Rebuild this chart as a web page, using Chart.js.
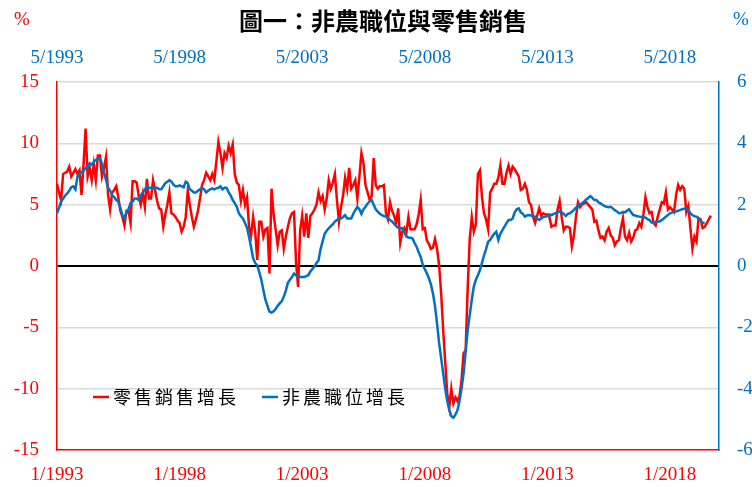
<!DOCTYPE html>
<html><head><meta charset="utf-8">
<script src="https://cdn.jsdelivr.net/npm/chart.js@4/dist/chart.umd.min.js"></script>
<style>html,body{margin:0;padding:0;background:#fff}#wrap{width:752px;height:487px;position:relative}</style>
</head><body><div id="wrap"><canvas id="c" width="752" height="487"></canvas></div>
<script>
const titleText = '圖一：非農職位與零售銷售';
const retailName = '零售銷售增長';
const payrollName = '非農職位增長';
// retail sales growth (%), monthly from 1/1993
const retailSales = [
6.7,6.0,5.4,7.5,7.6,7.7,8.1,7.3,7.6,7.9,7.5,7.8,
5.8,8.3,11.2,7.3,8.0,7.0,8.3,7.0,9.0,9.0,7.3,8.0,
8.9,5.8,4.6,6.0,6.2,6.5,5.6,4.5,4.0,3.3,4.5,4.5,
3.5,6.9,6.9,6.8,5.7,5.0,5.9,4.8,7.1,5.5,5.5,7.0,
6.2,5.3,4.7,4.6,3.2,4.2,5.0,6.0,4.3,4.2,4.0,3.7,
3.5,2.8,3.2,4.0,6.1,5.0,4.0,3.2,3.8,4.5,5.5,6.6,
7.0,7.6,7.3,7.0,7.5,7.0,8.5,10.1,9.2,8.0,9.2,8.8,
9.8,9.2,9.9,7.5,6.8,6.6,5.3,6.2,5.0,5.6,3.2,2.5,
4.0,2.8,0.5,3.6,3.6,2.4,3.0,3.1,-0.6,6.3,4.2,3.0,
1.7,2.8,2.9,1.4,2.4,3.2,3.9,4.3,4.4,0.3,-1.7,2.9,
4.1,2.4,4.3,2.3,4.1,4.3,4.6,5.0,6.0,5.3,5.7,4.6,
5.5,7.0,6.3,6.8,7.5,5.4,3.6,4.8,5.7,7.2,6.3,8.0,
6.3,6.6,7.0,5.5,7.3,9.2,8.4,6.6,6.0,5.4,5.7,8.8,
6.6,6.3,6.5,6.5,6.6,4.3,3.8,5.2,4.5,4.1,3.5,4.7,
1.9,2.8,3.1,2.7,4.0,3.0,3.0,3.0,3.4,4.2,5.4,3.0,
3.1,2.1,1.8,1.4,1.5,2.2,1.4,0.1,-2.2,-5.2,-7.8,-10.4,
-11.5,-10.0,-11.2,-10.7,-11.0,-10.6,-9.3,-7.1,-6.9,-1.8,2.2,4.0,
2.8,3.4,7.5,7.8,5.6,4.3,3.8,3.0,6.0,6.3,6.7,6.7,
7.2,8.2,6.7,6.7,7.6,8.2,7.5,8.1,7.9,7.6,7.3,6.2,
6.3,6.7,6.2,5.2,5.0,4.0,3.5,4.1,4.7,4.1,4.3,4.2,
4.2,4.0,3.2,3.3,3.3,4.6,5.3,4.0,2.9,3.2,3.2,3.1,
1.6,2.5,4.0,5.2,4.8,5.0,5.1,5.2,5.0,4.8,4.6,3.6,
3.7,2.9,2.3,2.4,2.1,2.8,3.1,2.5,2.3,1.7,2.0,2.1,
3.1,3.9,2.4,2.1,2.7,2.0,2.3,2.9,3.0,3.5,3.2,4.2,
5.6,4.8,4.3,4.4,3.5,3.3,4.0,4.6,5.2,5.1,6.0,4.6,
4.8,4.6,4.4,5.8,6.6,6.2,6.5,6.3,4.4,4.9,3.1,1.4,
2.4,2.0,3.9,3.8,3.1,3.2,3.5,3.8,4.1
];
// nonfarm payrolls growth (%), monthly from 5/1993 (top axis)
const nonfarmPayrolls = [
1.72,1.9,2.1,2.2,2.3,2.37,2.45,2.57,2.6,2.5,2.91,3.0,
3.07,3.1,3.2,3.25,3.35,3.3,3.4,3.46,3.5,3.51,3.35,3.05,
2.8,2.55,2.45,2.3,2.25,2.15,2.1,1.9,1.65,1.55,1.75,1.85,
2.05,2.1,2.2,2.2,2.15,2.3,2.4,2.5,2.6,2.55,2.55,2.55,
2.55,2.55,2.5,2.5,2.6,2.7,2.75,2.8,2.75,2.65,2.6,2.6,
2.63,2.6,2.57,2.75,2.7,2.5,2.45,2.4,2.4,2.45,2.5,2.55,
2.5,2.4,2.45,2.5,2.53,2.5,2.53,2.55,2.6,2.5,2.55,2.55,
2.4,2.3,2.15,2.05,1.93,1.72,1.62,1.55,1.4,1.25,0.95,0.6,
0.25,0.1,0.02,-0.2,-0.45,-0.78,-1.1,-1.3,-1.49,-1.52,-1.48,-1.4,
-1.3,-1.22,-1.15,-1.0,-0.8,-0.55,-0.45,-0.36,-0.25,-0.3,-0.36,-0.35,
-0.36,-0.36,-0.33,-0.3,-0.18,-0.1,-0.02,0.1,0.18,0.55,0.8,1.05,
1.15,1.23,1.3,1.36,1.45,1.5,1.55,1.55,1.6,1.66,1.55,1.55,
1.55,1.7,1.82,1.93,1.85,1.7,1.85,1.93,2.04,2.1,2.15,2.0,
1.85,1.77,1.7,1.66,1.63,1.61,1.55,1.5,1.45,1.38,1.3,1.25,
1.23,1.23,1.1,0.96,0.93,0.92,0.9,0.75,0.63,0.45,0.3,0.05,
-0.1,-0.24,-0.4,-0.6,-0.9,-1.3,-1.87,-2.5,-3.0,-3.5,-4.0,-4.4,
-4.7,-4.9,-4.95,-4.85,-4.7,-4.4,-4.0,-3.5,-2.8,-2.1,-1.6,-1.1,
-0.67,-0.45,-0.3,-0.13,0.1,0.35,0.55,0.79,0.85,0.96,1.05,1.12,
0.85,1.05,1.17,1.28,1.4,1.5,1.5,1.55,1.75,1.85,1.88,1.75,
1.7,1.61,1.65,1.66,1.65,1.62,1.61,1.55,1.5,1.55,1.6,1.61,
1.63,1.68,1.66,1.7,1.72,1.75,1.78,1.75,1.7,1.63,1.7,1.72,
1.77,1.83,1.9,1.96,2.0,2.05,2.1,2.17,2.22,2.28,2.22,2.15,
2.15,2.08,2.04,2.0,1.95,1.93,1.92,1.93,1.88,1.82,1.78,1.72,
1.73,1.76,1.75,1.8,1.85,1.75,1.66,1.65,1.62,1.61,1.6,1.6,
1.58,1.53,1.5,1.42,1.42,1.42,1.45,1.45,1.5,1.55,1.61,1.66,
1.72,1.74,1.76,1.78,1.8,1.83,1.85,1.87,1.88,1.82,1.72,1.66,
1.62,1.61,1.55,1.48,1.41,1.4
];
const bottomTickLabels = ['1/1993','1/1998','1/2003','1/2008','1/2013','1/2018'];
const topTickLabels = ['5/1993','5/1998','5/2003','5/2008','5/2013','5/2018'];
const leftTicks = [-15,-10,-5,0,5,10,15];
const rightTicks = [-6,-4,-2,0,2,4,6];

const N = 325;
function monthLabels(startMonth, startYear, n){
  const out=[]; let m=startMonth, y=startYear;
  for(let i=0;i<n;i++){ out.push(m+'/'+y); m++; if(m>12){m=1;y++;} }
  return out;
}
const bottomCategories = monthLabels(1,1993,N);
const topCategories = monthLabels(5,1993,N);

const RED='#ff0000', BLUE='#0070c0', GRID='#d9d9d9';
const tickFont={family:'"Liberation Serif","Times New Roman",serif',size:19};

const overlay = {
  id:'overlay',
  afterDraw(chart){
    const ctx=chart.ctx; ctx.save();
    ctx.textBaseline='middle';
    ctx.font='bold 24px "Noto Sans CJK TC"'; ctx.fillStyle='#000'; ctx.textAlign='center';
    ctx.fillText(titleText,383,21);
    ctx.font='19px "Liberation Serif"'; ctx.fillStyle=RED; ctx.textAlign='center';
    ctx.fillText('%',22,20);
    ctx.fillStyle=BLUE; ctx.fillText('%',741,20);
    // legend
    const ly=397;
    const items=[[retailName,RED,93],[payrollName,BLUE,262]];
    ctx.font='18px "Noto Sans CJK TC"'; ctx.textAlign='left'; ctx.fillStyle='#000';
    for(const [t,col,x0] of items){
      ctx.strokeStyle=col; ctx.lineWidth=2.5; ctx.beginPath(); ctx.moveTo(x0,ly); ctx.lineTo(x0+16,ly); ctx.stroke();
      let x=x0+20;
      for(const ch of t){ ctx.fillText(ch,x,ly); x+=21; }
    }
    ctx.restore();
  }
};

new Chart(document.getElementById('c'),{
  type:'line',
  data:{
    labels:bottomCategories,
    datasets:[
      {label:retailName,data:retailSales,borderColor:RED,backgroundColor:RED,borderWidth:2.5,pointRadius:0,xAxisID:'x',yAxisID:'y',order:1,tension:0},
      {label:payrollName,data:nonfarmPayrolls,borderColor:BLUE,backgroundColor:BLUE,borderWidth:2.5,pointRadius:0,xAxisID:'x2',yAxisID:'y2',order:0,tension:0}
    ]
  },
  options:{
    responsive:false,animation:false,
    layout:{padding:0},
    plugins:{legend:{display:false},title:{display:false},tooltip:{enabled:false}},
    scales:{
      x:{type:'category',position:'bottom',labels:bottomCategories,
        afterFit(s){s.height=37;},
        ticks:{autoSkip:false,maxRotation:0,color:RED,font:tickFont,padding:14,
          callback(v,i){const l=bottomCategories[i];return bottomTickLabels.includes(l)?l:null;}},
        grid:{drawTicks:false,lineWidth:1.5,color(c){const l=bottomCategories[c.index];return (c.index>0&&bottomTickLabels.includes(l))?GRID:'rgba(0,0,0,0)';}},
        border:{color:RED,width:1.5}},
      x2:{type:'category',position:'top',labels:topCategories,
        afterFit(s){s.height=82;},
        ticks:{autoSkip:false,maxRotation:0,color:BLUE,font:tickFont,padding:13,
          callback(v,i){const l=topCategories[i];return topTickLabels.includes(l)?l:null;}},
        grid:{display:false,drawTicks:false},border:{display:false}},
      y:{position:'left',min:-15,max:15,
        afterFit(s){s.width=57;},
        afterBuildTicks(s){s.ticks=leftTicks.map(v=>({value:v}));},
        ticks:{color:RED,font:tickFont,padding:18},
        grid:{drawTicks:false,color(c){const v=c.tick.value;return v===0?'#000':(v===-15?'rgba(0,0,0,0)':GRID);},lineWidth(c){return c.tick.value===0?2:1.5;}},
        border:{color:RED,width:1.5}},
      y2:{position:'right',min:-6,max:6,
        afterFit(s){s.width=33;},
        afterBuildTicks(s){s.ticks=rightTicks.map(v=>({value:v}));},
        ticks:{color:BLUE,font:tickFont,padding:18},
        grid:{display:false,drawTicks:false},border:{color:BLUE,width:1.5}}
    }
  },
  plugins:[overlay]
});
</script></body></html>
